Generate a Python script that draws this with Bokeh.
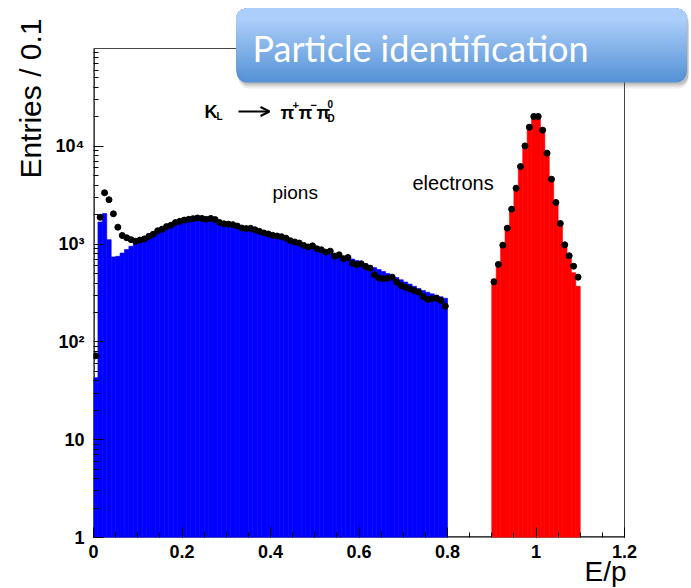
import numpy as np
from bokeh.plotting import figure
from bokeh.models import (Range1d, Label, BoxAnnotation, Arrow, OpenHead, Title,
                          FixedTicker, CustomJSTickFormatter)
from bokeh.embed import file_html
from bokeh.resources import INLINE

# ---- E/p histograms, 0.01 wide bins -------------------------------------
BIN_WIDTH = 0.01

# pion candidates: bins from 0.00 to 0.80
pion_start = 0.0
pion_mc = [43, 1680, 2050, 1110, 740, 750, 810, 880, 950, 1010,
           1060, 1100, 1150, 1210, 1290, 1350, 1420, 1480, 1560, 1620,
           1680, 1720, 1750, 1770, 1770, 1750, 1730, 1700, 1650, 1610,
           1580, 1545, 1500, 1460, 1425, 1390, 1350, 1310, 1270, 1240,
           1200, 1170, 1135, 1100, 1060, 1030, 1000, 970, 950, 925,
           900, 875, 850, 830, 805, 780, 755, 730, 705, 680,
           655, 630, 600, 575, 550, 525, 500, 478, 455, 432,
           410, 390, 370, 352, 336, 322, 310, 300, 290, 280]
pion_data = [72, 1880, 3350, 2840, 2040, 1490, 1225, 1160, 1110, 1070,
             1100, 1130, 1200, 1260, 1370, 1420, 1510, 1560, 1660, 1710,
             1760, 1790, 1820, 1850, 1830, 1790, 1830, 1780, 1660, 1610,
             1600, 1580, 1530, 1460, 1440, 1450, 1400, 1350, 1300, 1270,
             1230, 1210, 1190, 1150, 1085, 1050, 1025, 970, 935, 960,
             895, 875, 827, 847, 752, 777, 708, 730, 638, 614,
             629, 590, 567, 486, 449, 442, 449, 459, 408, 377,
             362, 348, 333, 322, 291, 272, 276, 280, 265, 232]

# electron candidates: bins from 0.90 to 1.10
electron_start = 0.90
electron_mc = [440, 650, 1000, 1500, 2350, 3800, 6400, 10300, 16500, 20800,
               20800, 15200, 8800, 4700, 2700, 1650, 1000, 790, 510, 370]
electron_data = [411, 620, 975, 1455, 2275, 3730, 6210, 10100, 15680, 20170,
                 20170, 14620, 8510, 4610, 2663, 1625, 984, 760, 594, 459]

# axis ticks and limits of the histogram frame
X_MIN, X_MAX = 0.0, 1.2
Y_MIN, Y_MAX = 1.0, 1e5
x_ticks = [0, 0.2, 0.4, 0.6, 0.8, 1.0, 1.2]
x_minor = [round(0.05 * k, 2) for k in range(25)]
y_ticks = [1, 10, 100, 1000, 10000]
y_minor = [m * 10 ** d for d in range(5) for m in range(2, 10)]

FONT = "Liberation Sans"

# page layout (pixels): histogram frame spans 93..624 horizontally, 48..537 vertically
W, H = 691, 588
FL, FR, FT, FB = 93, 624, 48, 537
px_per_x = (FR - FL) / (X_MAX - X_MIN)
px_per_dec = (FB - FT) / np.log10(Y_MAX / Y_MIN)
# the drawing area runs to the top and right edges of the page so the banner fits
x_range = Range1d(X_MIN, X_MAX + (W - FR) / px_per_x)
y_range = Range1d(Y_MIN, Y_MAX * 10 ** (FT / px_per_dec))


def edges(start, n):
    return np.round(start + BIN_WIDTH * np.arange(n + 1), 4)


p = figure(width=W, height=H, x_range=x_range, y_range=y_range, y_axis_type="log",
           output_backend="svg", toolbar_location=None, title=None,
           min_border_left=FL, min_border_right=0, min_border_top=0, min_border_bottom=H - FB)
p.grid.visible = False
p.outline_line_color = None
p.background_fill_color = "white"
p.border_fill_color = "white"

# ---- axes (ROOT style: ticks pointing into the frame) ---------------------
xa = p.xaxis[0]
xa.ticker = FixedTicker(ticks=x_ticks, minor_ticks=x_minor)
xa.formatter = CustomJSTickFormatter(code="return tick.toFixed(1).replace(/\\.0$/, '');")
xa.major_tick_in = 10
xa.major_tick_out = 0
xa.minor_tick_in = 5
xa.minor_tick_out = 0
xa.major_label_standoff = 7
xa.major_label_text_font = FONT
xa.major_label_text_font_style = "bold"
xa.major_label_text_font_size = "18px"
xa.major_label_text_color = "black"
xa.axis_line_color = None
xa.major_tick_line_color = "black"
xa.minor_tick_line_color = "black"

ya = p.yaxis[0]
ya.ticker = FixedTicker(ticks=y_ticks, minor_ticks=y_minor)
ya.formatter = CustomJSTickFormatter(code="""
const e = Math.round(Math.log10(tick));
if (e == 0) return "1";
if (e == 1) return "10";
const sup = {2: "\u00b2", 3: "\u00b3", 4: "\u2074", 5: "\u2075"};
return "10" + sup[e];
""")
ya.major_tick_in = 10
ya.major_tick_out = 0
ya.minor_tick_in = 5
ya.minor_tick_out = 0
ya.major_label_standoff = 9
ya.major_label_text_font = FONT
ya.major_label_text_font_style = "bold"
ya.major_label_text_font_size = "18px"
ya.major_label_text_color = "black"
ya.axis_line_color = None
ya.major_tick_line_color = "black"
ya.minor_tick_line_color = "black"

# axis titles, placed at the far end of each axis
p.add_layout(Title(text="Entries / 0.1", align="right", offset=18, standoff=12,
                   text_font=FONT, text_font_size="30px", text_font_style="normal",
                   text_color="black"), "left")
p.add_layout(Title(text="E/p", align="right", offset=W - FR - 2, standoff=-13,
                   text_font=FONT, text_font_size="28px", text_font_style="normal",
                   text_color="black"), "below")

# frame of the histogram
p.segment(x0=[X_MIN, X_MIN], y0=[Y_MIN, Y_MIN], x1=[X_MIN, X_MAX], y1=[Y_MAX, Y_MIN],
          line_color="black", line_width=2.5)
p.segment(x0=[X_MIN, X_MAX], y0=[Y_MAX, Y_MIN], x1=[X_MAX, X_MAX], y1=[Y_MAX, Y_MAX],
          line_color="#444444", line_width=1)

# ---- histograms and data points -------------------------------------------
pe = edges(pion_start, len(pion_mc))
p.quad(left=pe[:-1], right=pe[1:], bottom=Y_MIN, top=pion_mc,
       fill_color="#0000ff", line_color="#0000ff", line_width=0.6)
ee = edges(electron_start, len(electron_mc))
p.quad(left=ee[:-1], right=ee[1:], bottom=Y_MIN, top=electron_mc,
       fill_color="#ff0000", line_color="#ff0000", line_width=0.6)

p.scatter(x=(pe[:-1] + pe[1:]) / 2, y=pion_data, size=6, color="black")
p.scatter(x=(ee[:-1] + ee[1:]) / 2, y=electron_data, size=6, color="black")


# ---- in-plot labels (page pixel positions) ----------------------------------
def page_label(px, py, text, size, bold=True, align="left"):
    p.add_layout(Label(x=px - FL, y=FB - py, x_units="screen", y_units="screen", text=text,
                       text_align=align, text_baseline="middle", text_font=FONT,
                       text_font_style="bold" if bold else "normal",
                       text_font_size=size, text_color="black"))


page_label(272, 192, "pions", "19px", bold=False)
page_label(412, 182, "electrons", "20px", bold=False)

# K_L -> pi+ pi- pi0_D
page_label(204, 111, "K", "18px")
page_label(216, 116, "L", "10px")
p.add_layout(Arrow(end=OpenHead(size=9, line_width=2, line_color="black"),
                   x_start=238 - FL, y_start=FB - 111, x_end=269 - FL, y_end=FB - 111,
                   start_units="screen", end_units="screen", line_width=2,
                   line_color="black"))
page_label(280, 112, "π", "18px")
page_label(292, 104, "+", "11px")
page_label(298, 112, "π", "18px")
page_label(310, 104, "−", "11px")
page_label(316, 112, "π", "18px")
page_label(327, 103, "0", "10px")
page_label(327, 118, "D", "10px")

# ---- title banner ------------------------------------------------------------
BX0, BX1, BY0, BY1 = 236, 686, 8, 82   # page pixels
for off, alpha in [(6, 0.10), (4, 0.15), (2, 0.20)]:
    p.add_layout(BoxAnnotation(left=BX0 + 2 - FL, right=BX1 + 2 - FL,
                               top=FB - (BY0 + off), bottom=FB - (BY1 + off),
                               left_units="screen", right_units="screen",
                               top_units="screen", bottom_units="screen",
                               fill_color="#555555", fill_alpha=alpha, line_color=None,
                               border_radius=10, level="overlay"))

c_top = np.array([172, 206, 250])
c_bot = np.array([86, 147, 214])
for yb in range(BY1, 19, -2):
    t = (yb - 20) / (BY1 - 20)
    c = (c_top + (c_bot - c_top) * t).astype(int)
    radius = 10 if yb >= BY1 - 10 else (10, 10, 0, 0)
    p.add_layout(BoxAnnotation(left=BX0 - FL, right=BX1 - FL, top=FB - BY0, bottom=FB - yb,
                               left_units="screen", right_units="screen",
                               top_units="screen", bottom_units="screen",
                               fill_color="#%02x%02x%02x" % tuple(c), fill_alpha=1.0,
                               line_color=None, border_radius=radius, level="overlay"))

p.add_layout(Label(x=252 - FL, y=FB - 47, x_units="screen", y_units="screen",
                   text="Particle identification", text_align="left", text_baseline="middle",
                   text_font="Lato", text_font_size="36px", text_color="white",
                   level="overlay"))

open("out.html", "w").write(file_html(p, INLINE))
